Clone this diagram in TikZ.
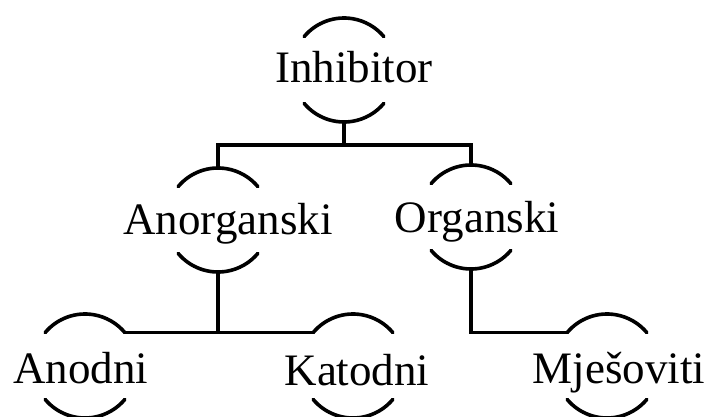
\documentclass[tikz,border=0pt]{standalone}
\usepackage{fontspec}
\setmainfont{Liberation Serif}
\begin{document}
\begin{tikzpicture}[x=0.75pt,y=0.75pt,
  ring/.style={circle,draw=none,inner sep=0pt,outer sep=0pt,minimum size=78pt},
  lbl/.style={anchor=base,inner sep=0pt,font=\fontsize{33.75pt}{40pt}\selectfont},
  wire/.style={line width=2.7pt,line cap=round,line join=miter}]
\useasboundingbox (0,0) rectangle (708,-417);
% circle frames
\node[ring] (inh) at (344,-70) {};
\node[ring] (ano) at (218,-220) {};
\node[ring] (org) at (471,-217) {};
\node[ring] (and) at (85,-366) {};
\node[ring] (kat) at (353,-366) {};
\node[ring] (mje) at (607,-366) {};
% labels
\node[lbl] (tinh) at (354,-83) {Inhibitor};
\node[lbl] (tano) at (228,-235) {Anorganski};
\node[lbl] (torg) at (477,-233) {Organski};
\node[lbl] (tand) at (81,-384) {Anodni};
\node[lbl] (tkat) at (357,-386) {Katodni};
\node[lbl] (tmje) at (619,-384) {Mješoviti};
% broken circles
\foreach \n in {inh,ano,org,and,kat,mje}{
  \draw[wire] (\n.140) arc[start angle=140,end angle=40,radius=52];
  \draw[wire] (\n.220) arc[start angle=220,end angle=320,radius=52];
}
% connectors
\draw[wire] (inh.south) -- ++(0,-23) coordinate (bus);
\draw[wire] (bus) -| (ano.north);
\draw[wire] (bus) -| (org.north);
\draw[wire] (ano.south) |- (and.40);
\draw[wire] (ano.south) |- (kat.140);
\draw[wire] (org.south) |- (mje.140);
\end{tikzpicture}
\end{document}
